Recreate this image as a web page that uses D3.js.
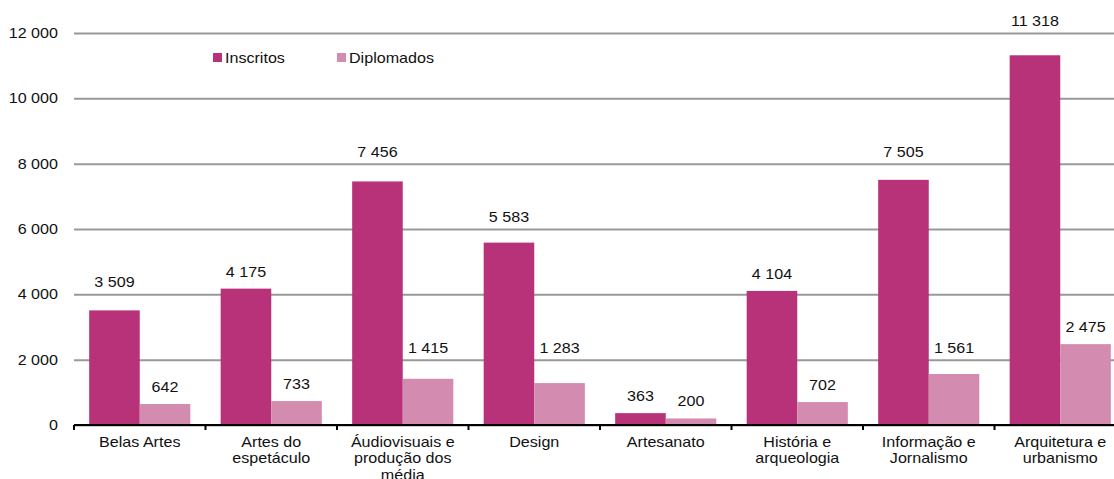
<!DOCTYPE html>
<html>
<head>
<meta charset="utf-8">
<script src="https://cdn.jsdelivr.net/npm/d3@7"></script>
<style>
  body { margin: 0; background: #fff; }
  svg { font-family: "Liberation Sans", Arial, sans-serif; font-size: 14px; }
</style>
</head>
<body>
<div id="chart"></div>
<script>
var categories = [
    "Belas Artes",
    "Artes do\nespetáculo",
    "Áudiovisuais e\nprodução dos\nmédia",
    "Design",
    "Artesanato",
    "História e\narqueologia",
    "Informação e\nJornalismo",
    "Arquitetura e\nurbanismo"
];
var series = ["Inscritos", "Diplomados"];
var inscritos = [3509, 4175, 7456, 5583, 363, 4104, 7505, 11318];
var diplomados = [642, 733, 1415, 1283, 200, 702, 1561, 2475];
var yTicks = [0, 2000, 4000, 6000, 8000, 10000, 12000];

var width = 1114,
    height = 479,
    stretch = 1.15,
    colors = {Inscritos: "#b8327a", Diplomados: "#d48bb0"},
    margin = {top: 33, right: -12, bottom: 54, left: 74};

let locale = d3.formatLocale({decimal: ",", thousands: "\u00a0", grouping: [3], currency: ["", "€"]});
let fmt = locale.format(",d");

let svg = d3.select("#chart")
    .append("svg")
    .attr("width", width)
    .attr("height", height);

let x0 = d3.scaleBand()
    .domain(categories)
    .range([margin.left, width - margin.right])
    .padding(0);

let x1 = d3.scaleBand()
    .domain(series)
    .range([0, x0.bandwidth()])
    .paddingInner(0)
    .paddingOuter(0.3);

let y = d3.scaleLinear()
    .domain([0, 12000])
    .range([height - margin.bottom, margin.top]);

// grid + y labels
let yAxis = svg.append("g")
    .attr("transform", `translate(${margin.left}, 0)`)
    .call(d3.axisLeft(y).tickValues(yTicks).tickFormat(fmt)
        .tickSize(-(width - margin.left)).tickPadding(14));
yAxis.select(".domain").remove();
yAxis.selectAll("line")
    .attr("stroke", "#999")
    .attr("stroke-width", 2);
yAxis.selectAll("text")
    .attr("fill", "#111")
    .style("font-size", "14px")
    .style("font-family", "'Liberation Sans', Arial, sans-serif")
    .attr("transform", `scale(${stretch},1)`);

let rows = categories.map((c, i) => ({cat: c, Inscritos: inscritos[i], Diplomados: diplomados[i]}));

// label position: above the bar, pushed above a gridline if it would sit on one
let labelY = (v) => {
    let cy = y(v) - 17;
    for (let t of yTicks) {
        if (t > 0 && Math.abs(cy - y(t)) < 8) {
            cy = y(t) - 12;
        }
    }
    return cy + 5;
};

// bars
let groups = svg.append("g")
    .selectAll("g")
    .data(rows)
    .join("g")
    .attr("transform", d => `translate(${x0(d.cat)}, 0)`);

groups.selectAll("rect")
    .data(d => series.map(s => ({key: s, value: d[s]})))
    .join("rect")
    .attr("x", d => x1(d.key))
    .attr("y", d => y(d.value))
    .attr("width", x1.bandwidth())
    .attr("height", d => y(0) - y(d.value))
    .attr("fill", d => colors[d.key]);

// value labels
groups.selectAll("text.val")
    .data(d => series.map(s => ({key: s, value: d[s]})))
    .join("text")
    .attr("class", "val")
    .attr("transform", d => `translate(${x1(d.key) + x1.bandwidth() / 2}, ${labelY(d.value)}) scale(${stretch},1)`)
    .attr("text-anchor", "middle")
    .attr("fill", "#111")
    .text(d => fmt(d.value));

// x axis line + ticks
let base = y(0);
svg.append("line")
    .attr("x1", margin.left)
    .attr("x2", width)
    .attr("y1", base)
    .attr("y2", base)
    .attr("stroke", "#000")
    .attr("stroke-width", 2);

svg.append("g")
    .selectAll("line")
    .data(categories)
    .join("line")
    .attr("x1", d => x0(d))
    .attr("x2", d => x0(d))
    .attr("y1", base)
    .attr("y2", base + 5)
    .attr("stroke", "#000")
    .attr("stroke-width", 2);

// category labels
let catLabels = svg.append("g")
    .selectAll("text")
    .data(categories)
    .join("text")
    .attr("transform", d => `translate(${x0(d) + x0.bandwidth() / 2}, ${base + 22}) scale(${stretch},1)`)
    .attr("text-anchor", "middle")
    .attr("fill", "#111");

catLabels.selectAll("tspan")
    .data(d => d.split("\n"))
    .join("tspan")
    .attr("x", 0)
    .attr("dy", (d, i) => i === 0 ? 0 : 16.5)
    .text(d => d);

// legend
let legend = svg.append("g")
    .selectAll("g")
    .data(series)
    .join("g")
    .attr("transform", (d, i) => `translate(${213 + i * 124}, 53)`);

legend.append("rect")
    .attr("width", 9)
    .attr("height", 9)
    .attr("fill", d => colors[d]);

legend.append("text")
    .attr("transform", `translate(12, 10) scale(${stretch},1)`)
    .attr("fill", "#111")
    .text(d => d);
</script>
</body>
</html>
